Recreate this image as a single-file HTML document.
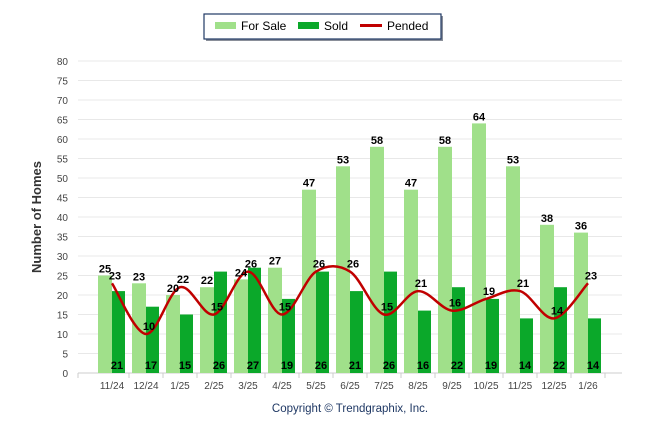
<!DOCTYPE html>
<html><head><meta charset="utf-8"><style>
body{margin:0;background:#fff;font-family:"Liberation Sans",Arial,sans-serif}
svg{display:block}
</style></head><body>
<svg id="c" width="646" height="434" font-family="Liberation Sans, Arial, sans-serif">
<g>
<rect x="206" y="16" width="237" height="25" fill="#8a8f99"/>
<rect x="204" y="14" width="237" height="25" fill="#fff" stroke="#1f3864" stroke-width="1.2"/>
<rect x="215" y="22" width="21" height="7" fill="#a0e08a"/>
<text x="241" y="30" font-size="12">For Sale</text>
<rect x="298" y="22" width="21" height="7" fill="#0ba82a"/>
<text x="324" y="30" font-size="12">Sold</text>
<rect x="360" y="24" width="22" height="3" fill="#c00000"/>
<text x="387" y="30" font-size="12">Pended</text>
</g>
<text x="0" y="0" transform="translate(41,217) rotate(-90)" text-anchor="middle" font-size="13" font-weight="bold" fill="#333">Number of Homes</text>
<text x="350" y="412" text-anchor="middle" font-size="11.5" fill="#1f3864">Copyright © Trendgraphix, Inc.</text>
<g id="grid"></g><g id="bars"></g><g id="line"></g><g id="labels"></g>
</svg>
<script>
const categories=["11/24","12/24","1/25","2/25","3/25","4/25","5/25","6/25","7/25","8/25","9/25","10/25","11/25","12/25","1/26"];
const forSale=[25,23,20,22,24,27,47,53,58,47,58,64,53,38,36];
const sold=[21,17,15,26,27,19,26,21,26,16,22,19,14,22,14];
const pended=[23,10,22,15,26,15,26,26,15,21,16,19,21,14,23];
const yTicks=[0,5,10,15,20,25,30,35,40,45,50,55,60,65,70,75,80];
const NS="http://www.w3.org/2000/svg";
const y=v=>373-v*(312/80);
const x=i=>112+i*34;
function mk(tag,attrs,parent,text){const e=document.createElementNS(NS,tag);for(const k in attrs)e.setAttribute(k,attrs[k]);if(text!==undefined)e.textContent=text;document.getElementById(parent).appendChild(e);return e;}
yTicks.forEach(t=>{
 const l=mk('line',{x1:78,x2:622,y1:y(t),y2:y(t),stroke:t===0?'#ccc':'#e8e8e8','stroke-width':1},'grid');
 
 
 const tx=mk('text',{x:68,y:y(t)+4,'text-anchor':'end','font-size':10,fill:'#444'},'grid',t);
 
 
});
mk('line',{x1:78,x2:78,y1:373,y2:378,stroke:'#ccc'},'grid');
categories.forEach((c,i)=>{
 const cx=x(i);
 mk('line',{x1:cx+17,x2:cx+17,y1:373,y2:378,stroke:'#ccc'},'grid');
 const t=mk('text',{x:cx,y:389,'text-anchor':'middle','font-size':10,fill:'#444'},'labels',c);
 
 
 const b1=mk('rect',{x:cx-14,y:y(forSale[i]),width:14,height:y(0)-y(forSale[i]),fill:'#a0e08a'},'bars');
 
 
 const b2=mk('rect',{x:cx,y:y(sold[i]),width:13,height:y(0)-y(sold[i]),fill:'#0ba82a'},'bars');
 
 
 const l1=mk('text',{x:cx-7,y:y(forSale[i])-3,'text-anchor':'middle','font-size':11,'font-weight':'bold'},'labels',forSale[i]);
 
 
 const l2=mk('text',{x:cx+5,y:369,'text-anchor':'middle','font-size':11,'font-weight':'bold'},'labels',sold[i]);
 
 
 const l3=mk('text',{x:cx+3,y:y(pended[i])-4,'text-anchor':'middle','font-size':11,'font-weight':'bold'},'labels',pended[i]);
 
 
});
const pts=pended.map((v,i)=>[x(i),y(v)]);
let d='M'+pts[0][0]+','+pts[0][1];
for(let i=0;i<pts.length-1;i++){
 const p0=pts[Math.max(0,i-1)],p1=pts[i],p2=pts[i+1],p3=pts[Math.min(pts.length-1,i+2)];
 const c1x=p1[0]+(p2[0]-p0[0])/6,c1y=p1[1]+(p2[1]-p0[1])/6;
 const c2x=p2[0]-(p3[0]-p1[0])/6,c2y=p2[1]-(p3[1]-p1[1])/6;
 d+=` C${c1x},${c1y} ${c2x},${c2y} ${p2[0]},${p2[1]}`;
}
const pl=mk('path',{d:d,fill:'none',stroke:'#c00000','stroke-width':2.5},'line');


</script>
</body></html>
